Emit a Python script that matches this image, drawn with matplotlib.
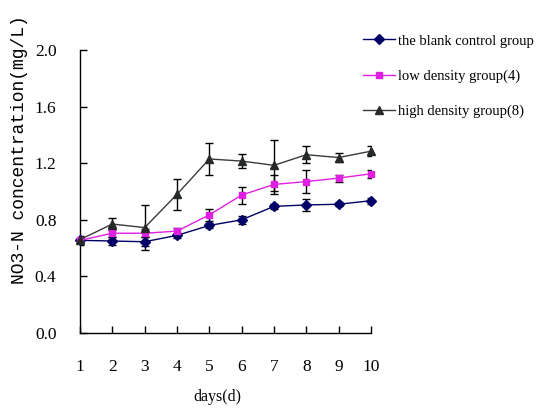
import matplotlib
matplotlib.use("Agg")
import matplotlib.pyplot as plt

days = [1, 2, 3, 4, 5, 6, 7, 8, 9, 10]
blank = [0.655, 0.65, 0.645, 0.69, 0.76, 0.80, 0.895, 0.905, 0.91, 0.935]
blank_err = [0.03, 0.03, 0.03, 0.02, 0.02, 0.03, 0.02, 0.04, 0.015, 0.02]
low = [0.655, 0.705, 0.705, 0.72, 0.835, 0.975, 1.05, 1.07, 1.095, 1.125]
low_err = [0.02, 0.03, 0.03, 0.02, 0.04, 0.06, 0.07, 0.08, 0.025, 0.03]
high = [0.66, 0.77, 0.745, 0.98, 1.23, 1.215, 1.185, 1.26, 1.24, 1.285]
high_err = [0.02, 0.04, 0.16, 0.11, 0.11, 0.05, 0.18, 0.06, 0.035, 0.035]
labels = ["the blank control group", "low density group(4)", "high density group(8)"]
yticks = [0.0, 0.4, 0.8, 1.2, 1.6, 2.0]

plt.rcParams['font.family'] = ['Liberation Serif', 'DejaVu Serif']

fig = plt.figure(figsize=(5.39, 4.08), dpi=100)
ax = fig.add_axes([80/539, 1-333/408, 291/539, 283/408])

series = [
    (blank, blank_err, '#000066', '#000066', 'D', 4.8, labels[0]),
    (low, low_err, '#E020E0', '#E020E0', 's', 5, labels[1]),
    (high, high_err, '#3a3a3a', '#262a26', '^', 5.8, labels[2]),
]
handles = []
for vals, err, lc, mc, m, ms, lab in series:
    ax.errorbar(days, vals, yerr=err, fmt='none', ecolor='black', elinewidth=1,
                capsize=3.2, capthick=1, zorder=2)
    h, = ax.plot(days, vals, color=lc, marker=m, markersize=ms, markerfacecolor=mc,
                 markeredgecolor=mc, linewidth=1, label=lab, zorder=3, clip_on=False)
    handles.append(h)

ax.set_xlim(1, 10)
ax.set_ylim(0, 2.0)
ax.set_xticks(days)
ax.set_xticklabels([str(d) for d in days])
ax.set_yticks(yticks)
ax.set_yticklabels([f"{v:.1f}" for v in yticks])
ax.spines['top'].set_visible(False)
ax.spines['right'].set_visible(False)
for s in ['left', 'bottom']:
    ax.spines[s].set_linewidth(1)
ax.tick_params(axis='both', direction='in', length=5, width=1, labelsize=12.5)
ax.tick_params(axis='x', pad=19)
ax.tick_params(axis='y', pad=17)
ax.set_xlabel("days(d)", fontsize=11.5, va='top')
ax.xaxis.set_label_coords((217-80)/291, (333-389)/283)
ax.set_ylabel("NO3-N concentration(mg/L)", fontsize=13, family=['Liberation Mono', 'DejaVu Sans Mono'])
ax.yaxis.set_label_coords((28-80)/291, (333-150)/283)

fig.legend(handles=handles, labels=labels, loc='upper left',
           bbox_to_anchor=(356/539, 1-27/408), frameon=False, fontsize=10.5,
           handlelength=2.2, handletextpad=0.15, labelspacing=1.5, borderpad=0)

fig.savefig("out.png", dpi=100)
